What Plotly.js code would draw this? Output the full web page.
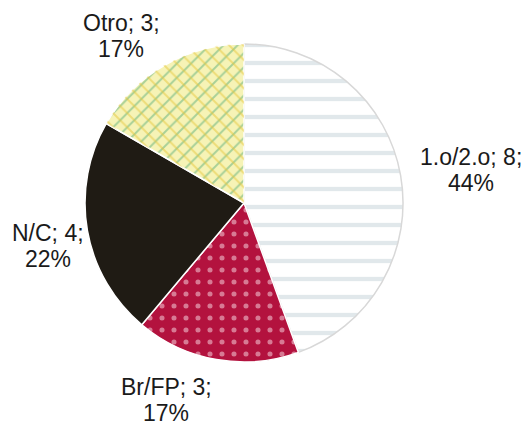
<!DOCTYPE html>
<html>
<head>
<meta charset="utf-8">
<script src="https://cdn.plot.ly/plotly-3.0.1.min.js"></script>
<style>html,body{margin:0;padding:0;background:#fff;}#chart{width:526px;height:427px;}</style>
</head>
<body>
<div id="chart"></div>
<script>
const labels = ["1.o/2.o", "Br/FP", "N/C", "Otro"];
const values = [8, 3, 4, 3];
const percentLabels = ["44%", "17%", "22%", "17%"];

const sliceColors = ["#ffffff", "#b3123e", "#1f1b14", "#f6f3b6"];
const patternShapes = ["-", ".", "", "/"];
const patternFg = ["#c4d1d8", "#fbe2ea", "#1f1b14", "#5aae7a"];

// label placement (paper coordinates, layout only)
const labelPos = [
  {x: 471 / 526, y1: 1 - 157 / 427, y2: 1 - 183 / 427},
  {x: 166 / 526, y1: 1 - 387 / 427, y2: 1 - 413 / 427},
  {x: 48 / 526, y1: 1 - 233 / 427, y2: 1 - 259 / 427},
  {x: 121 / 526, y1: 1 - 23 / 427, y2: 1 - 49 / 427}
];

const domain = {x: [0.1616, 0.7662], y: [0.1522, 0.897]};

const base = {
  type: "pie",
  labels: labels,
  values: values,
  sort: false,
  direction: "clockwise",
  rotation: 0,
  domain: domain,
  textinfo: "none",
  marker: {
    colors: sliceColors,
    line: {color: ["#d8d8d8", "#ffffff", "#ffffff", "#ffffff"], width: 1.5},
    pattern: {shape: patternShapes, fgcolor: patternFg, size: [18, 12, 8, 10], solidity: [0.24, 0.14, 0.1, 0.2], fillmode: "overlay"}
  },
  showlegend: false,
  hoverinfo: "label+value+percent"
};

const overlay = {
  type: "pie",
  labels: labels,
  values: values,
  sort: false,
  direction: "clockwise",
  rotation: 0,
  domain: domain,
  textinfo: "none",
  marker: {
    colors: ["rgba(0,0,0,0)", "rgba(0,0,0,0)", "rgba(0,0,0,0)", "rgba(0,0,0,0)"],
    line: {color: "rgba(0,0,0,0)", width: 0},
    pattern: {shape: ["", "", "", "\\"], fgcolor: "#e6c63a", bgcolor: "rgba(0,0,0,0)", size: 10, solidity: 0.2, fillmode: "overlay"}
  },
  showlegend: false,
  hoverinfo: "skip"
};

const font = {family: "Liberation Sans, Arial, sans-serif", size: 23, color: "#1a1a1a"};
const annotations = [];
labels.forEach((l, i) => {
  annotations.push({xref: "paper", yref: "paper", x: labelPos[i].x, y: labelPos[i].y1, xanchor: "center", yanchor: "middle",
    text: l + "; " + values[i] + ";", showarrow: false, font: font});
  annotations.push({xref: "paper", yref: "paper", x: labelPos[i].x, y: labelPos[i].y2, xanchor: "center", yanchor: "middle",
    text: percentLabels[i], showarrow: false, font: font});
});

Plotly.newPlot("chart", [base, overlay], {
  width: 526, height: 427,
  margin: {l: 0, r: 0, t: 0, b: 0},
  paper_bgcolor: "#ffffff",
  showlegend: false,
  annotations: annotations
}, {displayModeBar: false, staticPlot: true});
</script>
</body>
</html>
